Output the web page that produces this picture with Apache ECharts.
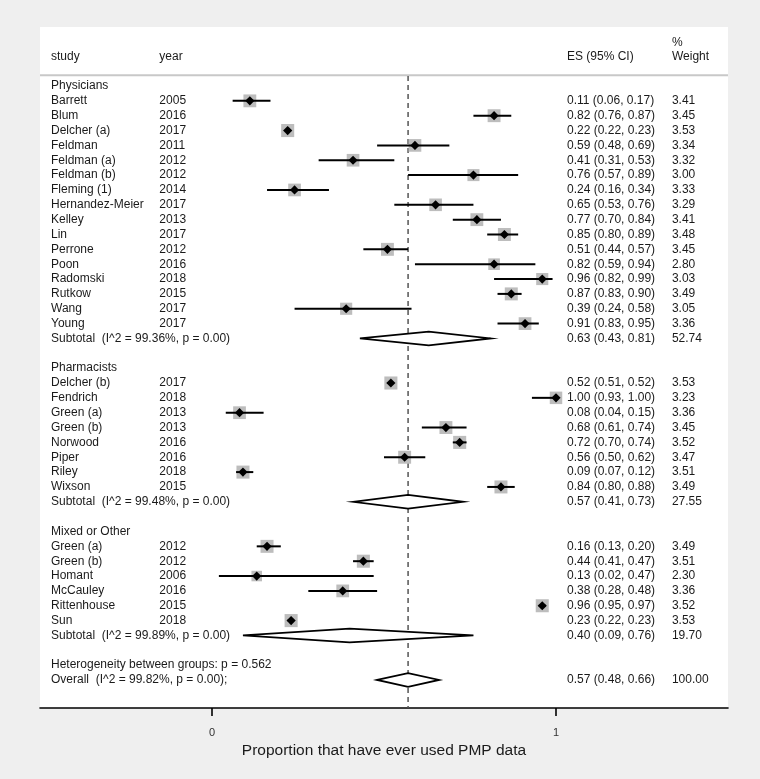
<!DOCTYPE html>
<html><head><meta charset="utf-8">
<script src="https://cdn.jsdelivr.net/npm/echarts@6/dist/echarts.min.js"></script>
<style>html,body{margin:0;padding:0;background:#efefef;} #c{width:760px;height:779px;}</style>
</head><body><div id="c"></div>
<script>
// ---------------- DATA ----------------
const groupNames = ['Physicians', 'Pharmacists', 'Mixed or Other'];

const physStudy = ['Barrett','Blum','Delcher (a)','Feldman','Feldman (a)','Feldman (b)','Fleming (1)','Hernandez-Meier','Kelley','Lin','Perrone','Poon','Radomski','Rutkow','Wang','Young'];
const physYear  = ['2005','2016','2017','2011','2012','2012','2014','2017','2013','2017','2012','2016','2018','2015','2017','2017'];
const physES    = [0.11,0.82,0.22,0.59,0.41,0.76,0.24,0.65,0.77,0.85,0.51,0.82,0.96,0.87,0.39,0.91];
const physLo    = [0.06,0.76,0.22,0.48,0.31,0.57,0.16,0.53,0.70,0.80,0.44,0.59,0.82,0.83,0.24,0.83];
const physHi    = [0.17,0.87,0.23,0.69,0.53,0.89,0.34,0.76,0.84,0.89,0.57,0.94,0.99,0.90,0.58,0.95];
const physWt    = [3.41,3.45,3.53,3.34,3.32,3.00,3.33,3.29,3.41,3.48,3.45,2.80,3.03,3.49,3.05,3.36];

const pharmStudy = ['Delcher (b)','Fendrich','Green (a)','Green (b)','Norwood','Piper','Riley','Wixson'];
const pharmYear  = ['2017','2018','2013','2013','2016','2016','2018','2015'];
const pharmES    = [0.52,1.00,0.08,0.68,0.72,0.56,0.09,0.84];
const pharmLo    = [0.51,0.93,0.04,0.61,0.70,0.50,0.07,0.80];
const pharmHi    = [0.52,1.00,0.15,0.74,0.74,0.62,0.12,0.88];
const pharmWt    = [3.53,3.23,3.36,3.45,3.52,3.47,3.51,3.49];

const mixStudy = ['Green (a)','Green (b)','Homant','McCauley','Rittenhouse','Sun'];
const mixYear  = ['2012','2012','2006','2016','2015','2018'];
const mixES    = [0.16,0.44,0.13,0.38,0.96,0.23];
const mixLo    = [0.13,0.41,0.02,0.28,0.95,0.22];
const mixHi    = [0.20,0.47,0.47,0.48,0.97,0.23];
const mixWt    = [3.49,3.51,2.30,3.36,3.52,3.53];

const subI2  = ['99.36%','99.48%','99.89%'];
const subES  = [0.63,0.57,0.40];
const subLo  = [0.43,0.41,0.09];
const subHi  = [0.81,0.73,0.76];
const subWt  = ['52.74','27.55','19.70'];

const heterogeneityP = '0.562';
const overallI2 = '99.82%';
const overallES = 0.57, overallLo = 0.48, overallHi = 0.66, overallWt = '100.00';

const xTicks = [0, 1];
const xTitle = 'Proportion that have ever used PMP data';

// ---------------- BUILD ROWS ----------------
const COL_STUDY = -0.468, COL_YEAR = -0.153, COL_ES = 1.032, COL_WT = 1.337;
const f2 = v => v.toFixed(2);
const texts = [];   // [x, row, string]
const studies = []; // [es, row, lo, hi, w]
const diamonds = []; // [es, row, lo, hi]

texts.push([COL_STUDY, -1.95, 'study']);
texts.push([COL_YEAR, -1.95, 'year']);
texts.push([COL_ES, -1.95, 'ES (95% CI)']);
texts.push([COL_WT, -2.95, '%']);
texts.push([COL_WT, -1.95, 'Weight']);

const groupData = [
  [physStudy, physYear, physES, physLo, physHi, physWt],
  [pharmStudy, pharmYear, pharmES, pharmLo, pharmHi, pharmWt],
  [mixStudy, mixYear, mixES, mixLo, mixHi, mixWt]
];
let r = 0;
groupData.forEach((g, gi) => {
  texts.push([COL_STUDY, r, groupNames[gi]]); r++;
  g[0].forEach((name, i) => {
    texts.push([COL_STUDY, r, name]);
    texts.push([COL_YEAR, r, g[1][i]]);
    texts.push([COL_ES, r, f2(g[2][i]) + ' (' + f2(g[3][i]) + ', ' + f2(g[4][i]) + ')']);
    texts.push([COL_WT, r, f2(g[5][i])]);
    studies.push([g[2][i], r, g[3][i], g[4][i], g[5][i]]);
    r++;
  });
  texts.push([COL_STUDY, r, 'Subtotal  (I^2 = ' + subI2[gi] + ', p = 0.00)']);
  texts.push([COL_ES, r, f2(subES[gi]) + ' (' + f2(subLo[gi]) + ', ' + f2(subHi[gi]) + ')']);
  texts.push([COL_WT, r, subWt[gi]]);
  diamonds.push([subES[gi], r, subLo[gi], subHi[gi]]);
  r += 2;
});
texts.push([COL_STUDY, r, 'Heterogeneity between groups: p = ' + heterogeneityP]); r++;
texts.push([COL_STUDY, r, 'Overall  (I^2 = ' + overallI2 + ', p = 0.00);']);
texts.push([COL_ES, r, f2(overallES) + ' (' + f2(overallLo) + ', ' + f2(overallHi) + ')']);
texts.push([COL_WT, r, overallWt]);
diamonds.push([overallES, r, overallLo, overallHi]);

// ---------------- CHART ----------------
const FONT = '12px "Liberation Sans", Arial, sans-serif';
const ROW_MIN = -3.973, ROW_MAX = 41.886;
const chart = echarts.init(document.getElementById('c'), null, {renderer: 'canvas'});

chart.setOption({
  backgroundColor: '#efefef',
  animation: false,
  grid: {left: 40, right: 32, top: 27, bottom: 71, show: true, backgroundColor: '#ffffff', borderWidth: 0},
  xAxis: {
    type: 'value', min: -0.5, max: 1.5, position: 'bottom',
    splitLine: {show: false},
    axisLine: {show: true, onZero: false, lineStyle: {color: '#000', width: 1.6}},
    axisTick: {show: true, customValues: xTicks, length: 8, lineStyle: {color: '#000', width: 1.6}},
    axisLabel: {customValues: xTicks, margin: 19, fontSize: 11, color: '#333', fontFamily: 'Liberation Sans'},
    name: xTitle, nameLocation: 'middle', nameGap: 29,
    nameTextStyle: {fontSize: 15.5, color: '#1a1a1a', fontFamily: 'Liberation Sans'}
  },
  yAxis: {type: 'value', inverse: true, min: ROW_MIN, max: ROW_MAX, show: false},
  series: [
    { // header separator
      type: 'custom', data: [[0, -0.72]], silent: true,
      renderItem: (params, api) => {
        const p = api.coord([0, api.value(1)]);
        const cs = params.coordSys;
        return {type: 'line', shape: {x1: cs.x, y1: p[1], x2: cs.x + cs.width, y2: p[1]}, style: {stroke: '#c8c8c8', lineWidth: 2}};
      }
    },
    { // dashed overall line
      type: 'custom', data: [[overallES, -0.68]], silent: true,
      renderItem: (params, api) => {
        const p = api.coord([api.value(0), api.value(1)]);
        const q = api.coord([api.value(0), ROW_MAX]);
        return {type: 'line', shape: {x1: p[0], y1: p[1], x2: q[0], y2: q[1]}, style: {stroke: '#555', lineWidth: 1.5, lineDash: [5, 4]}};
      }
    },
    { // studies
      type: 'custom', data: studies, silent: true,
      encode: {x: [0, 2, 3], y: 1},
      renderItem: (params, api) => {
        const es = api.value(0), row = api.value(1), lo = api.value(2), hi = api.value(3), w = api.value(4);
        const c = api.coord([es, row]), l = api.coord([lo, row]), h = api.coord([hi, row]);
        const s = 13 * Math.sqrt(w / 3.5);
        const d = 4.6;
        return {type: 'group', children: [
          {type: 'rect', shape: {x: c[0] - s / 2, y: c[1] - s / 2, width: s, height: s}, style: {fill: '#bdbdbd'}},
          {type: 'line', shape: {x1: l[0], y1: l[1], x2: h[0], y2: h[1]}, style: {stroke: '#000', lineWidth: 2}},
          {type: 'polygon', shape: {points: [[c[0] - d, c[1]], [c[0], c[1] - d], [c[0] + d, c[1]], [c[0], c[1] + d]]}, style: {fill: '#000'}}
        ]};
      }
    },
    { // pooled diamonds
      type: 'custom', data: diamonds, silent: true,
      encode: {x: [0, 2, 3], y: 1},
      renderItem: (params, api) => {
        const es = api.value(0), row = api.value(1), lo = api.value(2), hi = api.value(3);
        const pts = [api.coord([lo, row]), api.coord([es, row - 0.46]), api.coord([hi, row]), api.coord([es, row + 0.46])];
        return {type: 'polygon', shape: {points: pts}, style: {fill: '#fff', stroke: '#000', lineWidth: 1.8}};
      }
    },
    { // texts
      type: 'custom', data: texts.map(t => [t[0], t[1]]), silent: true,
      encode: {x: 0, y: 1},
      renderItem: (params, api) => {
        const p = api.coord([api.value(0), api.value(1)]);
        return {type: 'text', x: p[0], y: p[1], style: {text: texts[params.dataIndex][2], fill: '#1a1a1a', font: FONT, align: 'left', verticalAlign: 'middle', textAlign: 'left', textVerticalAlign: 'middle'}};
      }
    }
  ]
});
</script>
</body></html>
